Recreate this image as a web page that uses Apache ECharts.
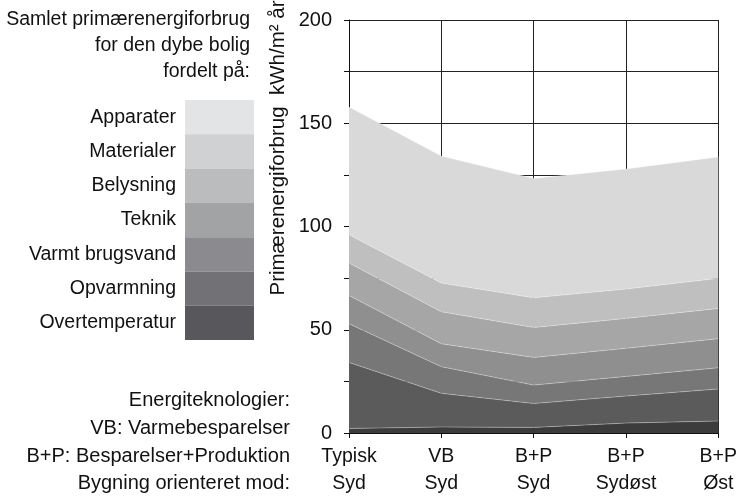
<!DOCTYPE html>
<html>
<head>
<meta charset="utf-8">
<script src="https://cdn.jsdelivr.net/npm/echarts@6/dist/echarts.min.js"></script>
<style>
  html, body { margin: 0; padding: 0; background: #fff; }
  #chart { width: 740px; height: 497px; }
</style>
</head>
<body>
<div id="chart"></div>
<script>
// kategorier (to linjer: teknologi / orientering)
const categories = ['Typisk\nSyd', 'VB\nSyd', 'B+P\nSyd', 'B+P\nSydøst', 'B+P\nØst']

// værdier pr. post, kWh/m² år (stablet nedefra)
const overtemperatur = [2.2, 2.9, 2.7, 4.8, 5.8]
const opvarmning = [32.0, 16.3, 11.6, 13.1, 15.5]
const varmtBrugsvand = [18.7, 12.9, 8.9, 9.5, 10.3]
const teknik = [13.7, 11.1, 13.4, 13.6, 14.1]
const belysning = [15.7, 15.5, 14.5, 14.5, 14.6]
const materialer = [13.7, 13.9, 14.4, 14.2, 14.6]
const apparater = [61.9, 61.5, 57.8, 58.1, 58.8]

const seriesNames = ['Overtemperatur', 'Opvarmning', 'Varmt brugsvand', 'Teknik', 'Belysning', 'Materialer', 'Apparater']
const seriesData = [overtemperatur, opvarmning, varmtBrugsvand, teknik, belysning, materialer, apparater]

// farver
const areaColors = ['#3c3c3c', '#5b5b5b', '#777777', '#8f8f8f', '#a6a6a6', '#bfbfbf', '#d9d9d9']
const legendColors = ['#58575b', '#727175', '#8b8a8e', '#a2a3a5', '#bbbcbe', '#d0d1d3', '#e3e4e6']

const FONT = "'Liberation Sans', Arial, sans-serif"
const FS = 19.5

const chart = echarts.init(document.getElementById('chart'), null, { renderer: 'canvas' })

const series = seriesNames.map((name, i) => ({
  name,
  type: 'line',
  stack: 'total',
  symbol: 'none',
  data: seriesData[i],
  lineStyle: { width: 1, color: 'rgba(255,255,255,0.3)' },
  itemStyle: { color: areaColors[i] },
  areaStyle: { color: areaColors[i], opacity: 1 },
  emphasis: { disabled: true }
}))

const option = {
  animation: false,
  backgroundColor: '#fff',
  textStyle: { fontFamily: FONT },
  grid: { left: 349, right: 19, top: 20, bottom: 64, containLabel: false },
  legend: {
    orient: 'vertical',
    right: 486,
    top: 100,
    padding: 0,
    itemGap: 0,
    itemWidth: 69,
    itemHeight: 34.3,
    align: 'right',
    icon: 'rect',
    selectedMode: false,
    itemStyle: { borderWidth: 0 },
    textStyle: { fontSize: FS, color: '#111', fontFamily: FONT, padding: [0, 4, 0, 0] },
    data: seriesNames.slice().reverse().map((name) => ({
      name,
      itemStyle: { color: legendColors[seriesNames.indexOf(name)], borderWidth: 0 }
    }))
  },
  xAxis: {
    type: 'category',
    boundaryGap: false,
    data: categories,
    axisLine: { lineStyle: { color: '#111', width: 1 } },
    axisTick: { show: true, length: 5, lineStyle: { color: '#111' } },
    axisLabel: { color: '#111', fontSize: FS, lineHeight: 27, margin: 10, fontFamily: FONT },
    splitLine: { show: true, lineStyle: { color: '#222', width: 1 } }
  },
  yAxis: {
    type: 'value',
    min: 0,
    max: 200,
    interval: 25,
    axisLine: { show: true, lineStyle: { color: '#111', width: 1 } },
    axisTick: { show: true, length: 5, lineStyle: { color: '#111' } },
    axisLabel: {
      color: '#111',
      fontSize: 20,
      margin: 17,
      fontFamily: FONT,
      formatter: (v) => (v % 50 === 0 ? String(v) : '')
    },
    splitLine: { show: true, lineStyle: { color: '#222', width: 1 } }
  },
  graphic: [
    {
      type: 'text',
      x: 250,
      y: 7,
      style: {
        text: 'Samlet primærenergiforbrug\nfor den dybe bolig\nfordelt på:',
        align: 'right',
        verticalAlign: 'top',
        lineHeight: 26,
        font: FS + 'px ' + FONT,
        fill: '#111'
      }
    },
    {
      type: 'text',
      x: 278,
      y: 148,
      rotation: Math.PI / 2,
      style: {
        text: 'Primærenergiforbrug  kWh/m² år',
        align: 'center',
        verticalAlign: 'middle',
        font: '20.5px ' + FONT,
        fill: '#111'
      }
    },
    {
      type: 'text',
      x: 290,
      y: 387,
      style: {
        text: 'Energiteknologier:\nVB: Varmebesparelser\nB+P: Besparelser+Produktion\nBygning orienteret mod:',
        align: 'right',
        verticalAlign: 'top',
        lineHeight: 27.7,
        font: '20px ' + FONT,
        fill: '#111'
      }
    }
  ],
  series
}

chart.setOption(option)
</script>
</body>
</html>
